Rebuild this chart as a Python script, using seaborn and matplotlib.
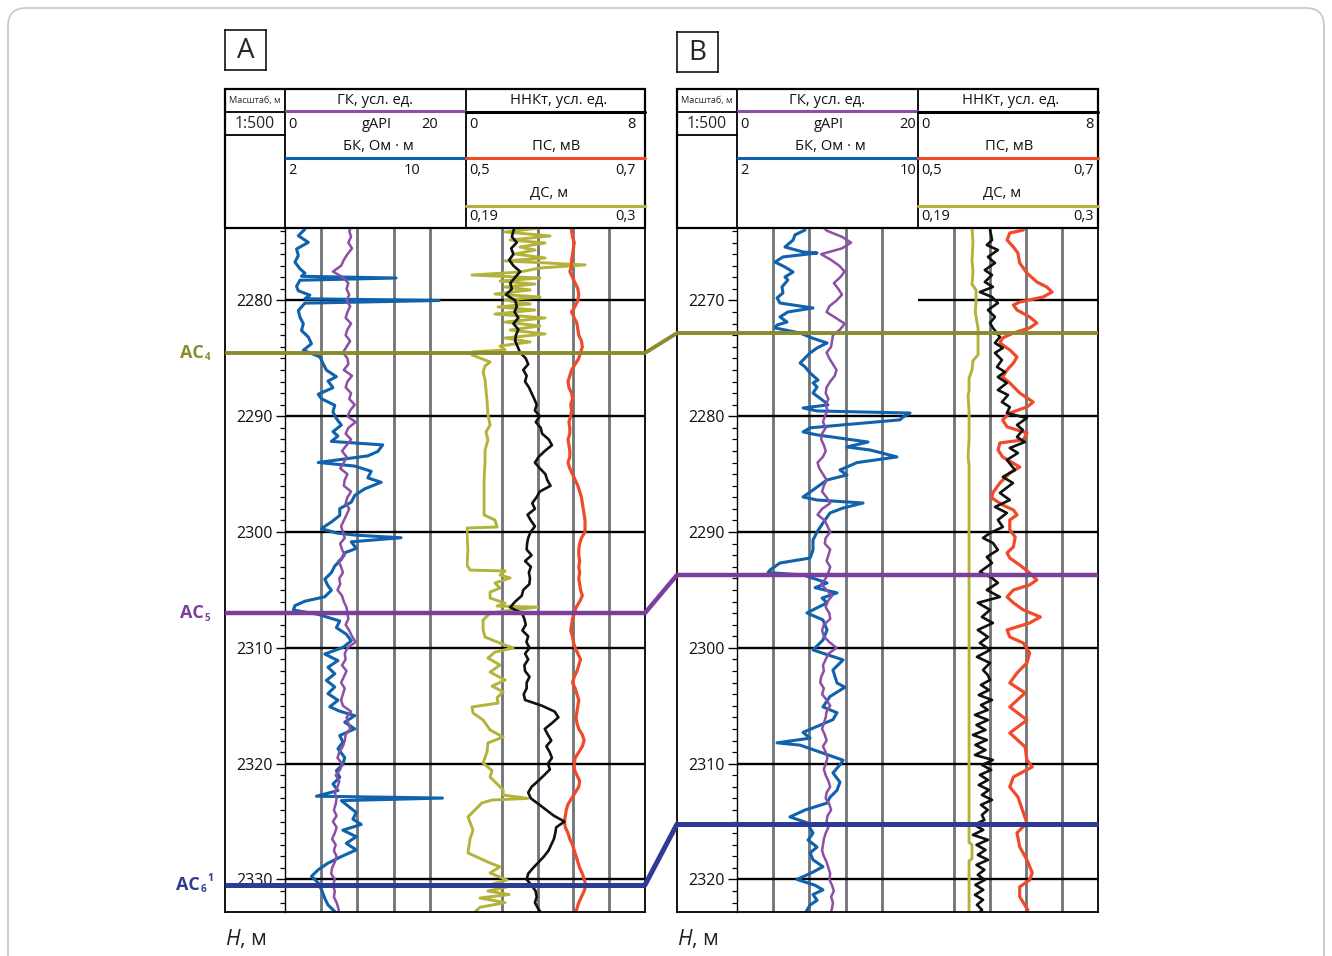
import matplotlib
matplotlib.use("Agg")
import matplotlib.pyplot as plt
import seaborn as sns
from matplotlib.patches import Rectangle, FancyBboxPatch, ConnectionPatch
from matplotlib.ticker import FixedLocator, MultipleLocator
from matplotlib.transforms import offset_copy

# ------------------------------------------------------------------ DATA
# Well A : regular 0.5 m samples
DEPTH_A = [2273.5, 2274.0, 2274.5, 2275.0, 2275.5, 2276.0, 2276.5, 2277.0, 2277.5, 2278.0,
           2278.5, 2279.0, 2279.5, 2280.0, 2280.5, 2281.0, 2281.5, 2282.0, 2282.5, 2283.0,
           2283.5, 2284.0, 2284.5, 2285.0, 2285.5, 2286.0, 2286.5, 2287.0, 2287.5, 2288.0,
           2288.5, 2289.0, 2289.5, 2290.0, 2290.5, 2291.0, 2291.5, 2292.0, 2292.5, 2293.0,
           2293.5, 2294.0, 2294.5, 2295.0, 2295.5, 2296.0, 2296.5, 2297.0, 2297.5, 2298.0,
           2298.5, 2299.0, 2299.5, 2300.0, 2300.5, 2301.0, 2301.5, 2302.0, 2302.5, 2303.0,
           2303.5, 2304.0, 2304.5, 2305.0, 2305.5, 2306.0, 2306.5, 2307.0, 2307.5, 2308.0,
           2308.5, 2309.0, 2309.5, 2310.0, 2310.5, 2311.0, 2311.5, 2312.0, 2312.5, 2313.0,
           2313.5, 2314.0, 2314.5, 2315.0, 2315.5, 2316.0, 2316.5, 2317.0, 2317.5, 2318.0,
           2318.5, 2319.0, 2319.5, 2320.0, 2320.5, 2321.0, 2321.5, 2322.0, 2322.5, 2323.0,
           2323.5, 2324.0, 2324.5, 2325.0, 2325.5, 2326.0, 2326.5, 2327.0, 2327.5, 2328.0,
           2328.5, 2329.0, 2329.5, 2330.0, 2330.5, 2331.0, 2331.5, 2332.0, 2332.5, 2333.0]
GK_A = [7.4, 7.1, 7.3, 7.0, 7.4, 6.9, 6.5, 6.2, 5.3, 6.4,
        7.0, 6.8, 7.1, 6.8, 7.2, 6.9, 6.7, 7.3, 6.9, 6.7,
        7.2, 6.8, 6.4, 6.9, 7.0, 6.5, 7.4, 6.9, 6.7, 7.3,
        7.1, 7.7, 7.2, 6.9, 7.8, 7.0, 6.7, 7.3, 6.8, 6.3,
        6.8, 6.5, 6.1, 6.9, 6.6, 6.5, 7.3, 6.9, 6.7, 7.1,
        6.8, 6.5, 6.2, 6.4, 6.6, 6.1, 6.3, 6.6, 5.9, 6.2,
        6.4, 6.0, 6.1, 5.8, 6.3, 6.5, 6.8, 6.9, 7.0, 6.7,
        7.1, 7.4, 7.8, 6.9, 6.6, 6.7, 6.3, 6.8, 6.5, 6.2,
        6.6, 6.4, 6.2, 6.4, 7.3, 6.8, 7.0, 7.2, 6.7, 6.6,
        6.4, 6.0, 5.8, 6.3, 6.1, 5.6, 6.0, 5.8, 5.5, 5.7,
        5.6, 5.4, 5.7, 5.3, 5.7, 5.5, 5.2, 5.6, 5.4, 5.7,
        5.5, 5.2, 5.1, 5.5, 5.3, 5.5, 5.4, 5.7, 5.9, 6.0]
NNKT_A = [2.20, 2.12, 2.05, 2.27, 2.02, 2.12, 1.93, 2.12, 2.42, 2.20,
          1.98, 2.05, 1.79, 2.20, 2.27, 2.17, 2.34, 2.12, 2.34, 2.23,
          2.20, 2.31, 2.42, 2.67, 2.78, 2.56, 2.71, 2.64, 2.81, 2.93,
          3.05, 3.16, 3.08, 3.30, 3.12, 3.34, 3.40, 3.70, 3.84, 3.52,
          3.25, 3.08, 3.30, 3.55, 3.63, 3.78, 3.30, 3.15, 2.96, 3.08,
          2.75, 2.90, 3.08, 2.89, 2.78, 2.73, 2.71, 2.93, 2.64, 2.90,
          2.81, 2.86, 2.83, 2.56, 2.49, 2.20, 1.97, 2.50, 2.61, 2.67,
          2.52, 2.78, 2.70, 2.84, 2.64, 2.78, 2.61, 2.64, 2.84, 2.71,
          2.71, 2.58, 2.64, 3.40, 3.96, 4.13, 3.84, 3.52, 3.66, 3.81,
          3.59, 3.74, 3.84, 3.66, 3.75, 3.49, 3.22, 2.93, 2.78, 2.90,
          3.25, 3.59, 3.93, 4.40, 4.03, 3.99, 3.93, 3.81, 3.69, 3.49,
          3.25, 3.00, 2.78, 2.71, 2.93, 3.11, 3.16, 3.08, 3.22, 3.40]
PS_A = [.617, .618, .619, .621, .620, .619, .618, .618, .616, .619,
        .622, .625, .626, .625, .622, .618, .621, .624, .625, .626,
        .629, .630, .628, .626, .622, .618, .616, .614, .615, .618,
        .619, .617, .618, .617, .615, .616, .616, .614, .615, .616,
        .616, .614, .616, .619, .622, .625, .627, .629, .630, .631,
        .632, .633, .633, .633, .629, .627, .626, .626, .627, .626,
        .627, .626, .627, .628, .630, .627, .623, .621, .619, .618,
        .617, .619, .620, .622, .625, .628, .626, .624, .621, .619,
        .622, .624, .626, .625, .624, .623, .624, .626, .630, .632,
        .630, .626, .622, .621, .621, .624, .627, .626, .622, .618,
        .614, .612, .611, .610, .611, .614, .616, .619, .621, .623,
        .625, .627, .630, .632, .634, .632, .629, .626, .624, .622]
# (depth, value) pairs for curves with spikes / steps
BK_A = [(2273.84, 2.88), (2274.41, 2.59), (2274.98, 3.03), (2275.55, 2.51), (2276.12, 2.59),
        (2276.69, 2.44), (2277.26, 2.66), (2277.64, 2.88), (2277.91, 2.73), (2278.06, 6.91),
        (2278.25, 2.66), (2278.78, 2.51), (2279.16, 2.59), (2279.54, 3.10), (2279.85, 2.88),
        (2280.00, 8.81), (2280.23, 2.88), (2280.87, 2.59), (2281.44, 2.66), (2282.01, 2.81),
        (2282.59, 2.73), (2283.16, 3.03), (2283.73, 3.17), (2284.30, 2.81), (2284.87, 3.54),
        (2285.44, 3.68), (2286.01, 3.83), (2286.58, 4.27), (2286.96, 3.90), (2287.53, 4.12),
        (2288.10, 3.47), (2288.48, 3.61), (2289.05, 4.20), (2289.62, 4.12), (2290.19, 4.27),
        (2290.76, 4.49), (2291.33, 4.12), (2291.71, 4.34), (2292.17, 4.05), (2292.47, 6.32),
        (2293.04, 6.10), (2293.42, 5.66), (2293.99, 3.47), (2294.30, 5.08), (2294.75, 5.81),
        (2295.32, 5.66), (2295.70, 6.25), (2296.27, 5.52), (2296.84, 5.08), (2297.41, 4.93),
        (2297.98, 4.42), (2298.56, 4.42), (2299.13, 4.05), (2299.70, 3.61), (2300.08, 4.27),
        (2300.27, 5.15), (2300.49, 7.13), (2300.84, 4.93), (2301.41, 5.15), (2301.79, 4.64),
        (2302.36, 4.49), (2302.93, 4.20), (2303.50, 4.05), (2304.07, 3.76), (2304.64, 3.90),
        (2305.02, 4.05), (2305.59, 3.76), (2305.97, 2.88), (2306.35, 2.44), (2306.73, 2.37),
        (2307.11, 3.47), (2307.68, 4.42), (2308.25, 4.27), (2308.82, 4.71), (2309.39, 4.93),
        (2309.96, 4.56), (2310.53, 3.76), (2311.10, 4.34), (2311.67, 3.90), (2312.24, 4.20),
        (2312.81, 3.83), (2313.38, 4.20), (2313.95, 3.90), (2314.52, 4.34), (2315.09, 3.98),
        (2315.47, 4.42), (2315.85, 5.08), (2316.42, 4.64), (2316.99, 5.08), (2317.57, 4.42),
        (2318.14, 4.56), (2318.71, 4.34), (2319.47, 4.64), (2320.04, 4.56), (2320.61, 4.27),
        (2321.18, 4.42), (2321.75, 4.12), (2322.32, 4.34), (2322.81, 3.39), (2322.97, 8.96),
        (2323.19, 4.49), (2323.65, 4.78), (2324.22, 5.15), (2324.79, 5.00), (2325.25, 5.37),
        (2325.74, 4.56), (2326.31, 5.15), (2326.88, 4.71), (2327.45, 5.15), (2328.02, 4.49),
        (2328.59, 3.90), (2329.16, 3.47), (2329.73, 3.17), (2330.30, 3.47), (2330.87, 3.61),
        (2331.63, 3.76), (2332.20, 3.90), (2332.77, 4.20)]
DS_A = [(2273.74, .2355), (2274.08, .2140), (2274.43, .2417), (2274.78, .2171), (2275.03, .2386),
        (2275.38, .2232), (2275.64, .2324), (2275.98, .2201), (2276.33, .2386), (2276.58, .2140),
        (2276.93, .2632), (2277.19, .2355), (2277.54, .2232), (2277.80, .1937), (2278.06, .2355),
        (2278.32, .2109), (2278.58, .2324), (2278.83, .2140), (2279.09, .2294), (2279.44, .2078),
        (2279.70, .2355), (2279.96, .2140), (2280.30, .2294), (2280.56, .2097), (2280.82, .2324),
        (2281.17, .2078), (2281.51, .2386), (2281.86, .2140), (2282.20, .2355), (2282.55, .2171),
        (2282.89, .2386), (2283.24, .2140), (2283.58, .2294), (2283.93, .2109), (2284.27, .2140),
        (2284.45, .1937), (2284.71, .1937), (2284.97, .1986), (2285.31, .2048), (2285.66, .2017),
        (2286.17, .2005), (2286.87, .2017), (2287.73, .2023), (2288.59, .2029), (2289.89, .2035),
        (2290.75, .2048), (2291.36, .2023), (2292.05, .2035), (2292.91, .2017), (2293.95, .2017),
        (2295.50, .2011), (2297.23, .2011), (2298.52, .2011), (2298.96, .2078), (2299.56, .2091),
        (2299.65, .1906), (2300.25, .1906), (2301.55, .1912), (2302.84, .1906), (2303.28, .1925),
        (2303.36, .2140), (2303.71, .2109), (2303.97, .2171), (2304.40, .2078), (2304.83, .2109),
        (2305.18, .2048), (2305.70, .2048), (2306.13, .2140), (2306.39, .2091), (2306.48, .2337),
        (2306.82, .2140), (2307.00, .2048), (2307.59, .2005), (2308.46, .2005), (2309.07, .2017),
        (2309.76, .2140), (2310.01, .2189), (2310.36, .2078), (2310.88, .2035), (2311.48, .2109),
        (2312.09, .2048), (2312.78, .2140), (2313.30, .2060), (2313.80, .2128), (2314.30, .2091),
        (2314.77, .2097), (2315.10, .1937), (2315.62, .1943), (2316.23, .2005), (2317.09, .2048),
        (2317.70, .2128), (2318.21, .2035), (2319.00, .2029), (2319.94, .2005), (2320.60, .2060),
        (2321.15, .2048), (2322.27, .2128), (2322.71, .2128), (2323.00, .2281), (2323.14, .2060),
        (2323.39, .1998), (2324.60, .1912), (2325.73, .1943), (2326.50, .1925), (2327.71, .1912),
        (2328.58, .2048), (2328.90, .2109), (2329.44, .2048), (2330.05, .2152), (2330.40, .2060),
        (2330.65, .2152), (2331.00, .2035), (2331.30, .2165), (2331.60, .1986), (2332.00, .2140),
        (2332.40, .1986), (2332.81, .1955)]

# Well B
DEPTH_B = [2263.5, 2264.0, 2264.5, 2265.0, 2265.5, 2266.0, 2266.5, 2267.0, 2267.5, 2268.0,
           2268.5, 2269.0, 2269.5, 2270.0, 2270.5, 2271.0, 2271.5, 2272.0, 2272.5, 2273.0,
           2273.5, 2274.0, 2274.5, 2275.0, 2275.5, 2276.0, 2276.5, 2277.0, 2277.5, 2278.0,
           2278.5, 2279.0, 2279.5, 2280.0, 2280.5, 2281.0, 2281.5, 2282.0, 2282.5, 2283.0,
           2283.5, 2284.0, 2284.5, 2285.0, 2285.5, 2286.0, 2286.5, 2287.0, 2287.5, 2288.0,
           2288.5, 2289.0, 2289.5, 2290.0, 2290.5, 2291.0, 2291.5, 2292.0, 2292.5, 2293.0,
           2293.5, 2294.0, 2294.5, 2295.0, 2295.5, 2296.0, 2296.5, 2297.0, 2297.5, 2298.0,
           2298.5, 2299.0, 2299.5, 2300.0, 2300.5, 2301.0, 2301.5, 2302.0, 2302.5, 2303.0,
           2303.5, 2304.0, 2304.5, 2305.0, 2305.5, 2306.0, 2306.5, 2307.0, 2307.5, 2308.0,
           2308.5, 2309.0, 2309.5, 2310.0, 2310.5, 2311.0, 2311.5, 2312.0, 2312.5, 2313.0,
           2313.5, 2314.0, 2314.5, 2315.0, 2315.5, 2316.0, 2316.5, 2317.0, 2317.5, 2318.0,
           2318.5, 2319.0, 2319.5, 2320.0, 2320.5, 2321.0, 2321.5, 2322.0, 2322.5, 2323.0]
GK_B = [9.2, 10.0, 11.6, 12.6, 11.6, 9.3, 10.4, 11.3, 11.9, 11.4,
        10.7, 11.2, 11.6, 11.0, 10.2, 9.9, 10.9, 11.9, 11.4, 10.6,
        10.5, 10.4, 9.9, 10.2, 10.6, 11.0, 10.8, 10.3, 9.9, 9.8,
        10.1, 9.8, 10.0, 9.7, 9.5, 9.8, 9.4, 9.3, 9.6, 9.8,
        9.5, 8.9, 9.1, 9.5, 9.9, 9.6, 9.4, 9.9, 10.3, 9.4,
        8.9, 9.7, 10.0, 10.3, 9.8, 9.7, 10.3, 10.1, 9.9, 10.3,
        10.1, 9.8, 9.3, 9.9, 10.5, 10.0, 9.8, 10.2, 10.3, 9.6,
        9.4, 9.6, 10.2, 11.0, 10.1, 9.8, 9.5, 9.6, 9.3, 9.2,
        9.6, 9.4, 9.9, 10.3, 9.9, 9.8, 9.6, 9.4, 9.7, 9.9,
        9.5, 9.8, 10.0, 9.8, 9.6, 9.8, 10.1, 10.3, 9.9, 9.8,
        10.2, 10.4, 10.0, 9.9, 10.1, 9.8, 9.6, 9.5, 9.4, 9.6,
        9.9, 10.1, 10.3, 10.2, 10.5, 10.7, 10.4, 10.6, 10.5, 10.3]
BK_B = [(2263.91, 5.01), (2264.34, 4.56), (2264.78, 4.48), (2265.38, 4.12), (2265.81, 4.92),
        (2265.90, 5.54), (2266.24, 4.03), (2266.68, 3.68), (2267.11, 4.12), (2267.54, 4.48),
        (2267.97, 4.12), (2268.23, 4.25), (2268.83, 3.99), (2269.35, 4.03), (2269.78, 3.77),
        (2270.22, 3.90), (2270.65, 5.36), (2270.99, 4.25), (2271.42, 3.90), (2271.86, 4.21),
        (2272.12, 3.77), (2272.37, 3.68), (2272.81, 4.79), (2273.24, 5.32), (2273.67, 5.98),
        (2274.10, 5.54), (2274.53, 5.23), (2275.14, 4.92), (2275.40, 4.79), (2275.74, 5.01),
        (2276.26, 5.23), (2276.87, 5.58), (2277.12, 5.36), (2277.47, 5.54), (2277.99, 5.36),
        (2278.77, 5.89), (2279.02, 6.02), (2279.28, 4.92), (2279.54, 5.54), (2279.72, 9.65),
        (2280.06, 9.34), (2280.31, 9.20), (2280.74, 6.69), (2281.00, 5.23), (2281.35, 4.92),
        (2281.61, 5.54), (2282.22, 7.79), (2282.65, 6.86), (2282.91, 7.88), (2283.51, 9.07),
        (2284.00, 7.30), (2284.64, 6.55), (2285.07, 6.86), (2285.50, 5.98), (2286.36, 5.36),
        (2286.97, 4.92), (2287.23, 5.54), (2287.49, 7.57), (2287.92, 6.69), (2288.35, 6.11),
        (2289.21, 5.80), (2289.99, 5.54), (2290.68, 5.36), (2291.54, 5.36), (2292.24, 5.23),
        (2292.67, 3.90), (2293.27, 3.46), (2293.50, 3.37), (2293.70, 4.92), (2294.39, 5.98),
        (2294.80, 5.45), (2295.25, 6.42), (2295.70, 5.76), (2296.11, 5.98), (2296.98, 5.09),
        (2297.59, 5.80), (2298.45, 5.98), (2299.32, 5.80), (2300.18, 5.36), (2301.04, 6.69),
        (2301.91, 6.24), (2303.03, 6.42), (2303.40, 6.77), (2304.20, 6.11), (2305.10, 5.80),
        (2305.60, 6.42), (2306.20, 6.24), (2307.30, 4.92), (2307.80, 5.23), (2308.20, 3.77),
        (2308.40, 4.79), (2309.00, 5.67), (2309.70, 6.69), (2310.10, 6.55), (2310.80, 6.24),
        (2311.60, 6.55), (2312.30, 6.42), (2312.90, 6.11), (2313.40, 5.98), (2314.00, 5.01),
        (2314.60, 4.34), (2315.10, 5.09), (2316.00, 5.36), (2316.60, 5.14), (2317.20, 5.54),
        (2317.70, 5.23), (2318.30, 5.36), (2318.90, 5.80), (2319.40, 5.32), (2320.00, 4.65),
        (2320.50, 5.45), (2320.90, 5.80), (2321.30, 5.36), (2321.80, 5.54), (2322.20, 5.23),
        (2322.80, 5.05)]
NNKT_B = [(2263.91, 3.20), (2264.34, 3.25), (2264.78, 3.29), (2265.21, 3.06), (2265.64, 3.55),
          (2266.24, 3.11), (2266.76, 3.42), (2267.37, 2.97), (2267.80, 3.29), (2268.40, 2.97),
          (2268.83, 3.33), (2269.27, 2.75), (2269.70, 3.29), (2270.22, 3.55), (2270.82, 3.11),
          (2271.42, 3.42), (2271.94, 3.20), (2272.37, 3.33), (2273.15, 3.64), (2273.67, 3.42),
          (2274.10, 3.77), (2274.53, 3.42), (2275.14, 3.73), (2275.74, 3.51), (2276.17, 3.86),
          (2276.61, 3.55), (2277.12, 3.95), (2277.73, 3.55), (2278.16, 4.00), (2278.77, 3.73),
          (2279.20, 4.08), (2279.72, 3.95), (2280.15, 4.84), (2280.75, 4.40), (2281.18, 4.66),
          (2281.79, 4.40), (2282.22, 4.75), (2282.74, 4.08), (2283.17, 4.44), (2283.77, 3.95),
          (2284.64, 4.31), (2285.24, 3.77), (2285.76, 4.22), (2286.62, 3.64), (2287.23, 4.08),
          (2287.83, 3.42), (2288.35, 3.95), (2288.95, 3.55), (2289.56, 3.77), (2290.08, 3.20),
          (2290.51, 2.89), (2290.94, 3.33), (2291.54, 3.55), (2292.15, 3.06), (2292.67, 3.29),
          (2293.44, 2.75), (2293.96, 3.29), (2294.39, 3.55), (2295.00, 3.06), (2295.60, 3.64),
          (2296.11, 2.66), (2296.72, 3.20), (2297.33, 2.84), (2297.85, 3.33), (2298.45, 2.66),
          (2299.06, 3.11), (2299.58, 2.75), (2300.18, 3.20), (2300.78, 2.62), (2301.30, 3.20),
          (2301.91, 2.89), (2302.34, 3.10), (2302.77, 3.20), (2303.20, 2.80), (2303.64, 3.15),
          (2304.07, 2.70), (2304.50, 3.29), (2304.93, 2.80), (2305.36, 3.10), (2305.79, 2.53),
          (2306.23, 3.11), (2306.66, 2.60), (2307.09, 3.00), (2307.52, 2.44), (2307.95, 3.06),
          (2308.38, 2.55), (2308.82, 3.00), (2309.25, 2.53), (2309.68, 3.33), (2310.11, 2.85),
          (2310.54, 3.25), (2310.97, 2.75), (2311.41, 3.11), (2311.84, 2.70), (2312.27, 3.15),
          (2312.70, 2.84), (2313.13, 3.29), (2313.56, 2.80), (2314.00, 3.10), (2314.43, 2.84),
          (2314.86, 2.95), (2315.29, 2.50), (2315.72, 2.90), (2316.15, 2.44), (2316.58, 3.11),
          (2317.01, 2.60), (2317.45, 3.00), (2317.88, 2.66), (2318.31, 3.11), (2318.74, 2.60),
          (2319.17, 2.95), (2319.60, 2.66), (2320.04, 2.97), (2320.47, 2.55), (2320.90, 2.90),
          (2321.33, 2.53), (2321.76, 2.89), (2322.19, 2.62), (2322.63, 2.85), (2322.89, 2.70)]
PS_B = [(2263.91, .617), (2264.17, .602), (2264.78, .599), (2265.38, .606), (2265.90, .611),
        (2266.76, .613), (2267.63, .621), (2268.40, .632), (2268.83, .643), (2269.27, .649),
        (2269.70, .639), (2270.13, .613), (2270.39, .606), (2270.82, .610), (2271.42, .624),
        (2271.94, .632), (2272.37, .624), (2272.81, .606), (2273.24, .594), (2273.67, .591),
        (2274.27, .602), (2274.88, .610), (2275.40, .606), (2276.00, .599), (2276.61, .594),
        (2277.12, .602), (2277.99, .613), (2278.77, .628), (2279.20, .621), (2279.72, .602),
        (2280.32, .594), (2280.92, .599), (2281.44, .621), (2282.04, .617), (2282.30, .591),
        (2282.91, .589), (2283.51, .594), (2284.38, .613), (2284.90, .602), (2285.76, .591),
        (2286.62, .583), (2287.05, .582), (2287.66, .594), (2288.09, .606), (2288.52, .610),
        (2288.95, .602), (2289.82, .602), (2290.42, .608), (2291.28, .606), (2291.80, .599),
        (2292.24, .602), (2292.84, .613), (2293.53, .624), (2294.13, .632), (2294.56, .624),
        (2295.00, .606), (2295.60, .599), (2296.11, .606), (2296.72, .617), (2297.33, .636),
        (2297.85, .624), (2298.45, .599), (2299.06, .602), (2299.58, .617), (2300.44, .624),
        (2301.30, .621), (2302.17, .610), (2303.03, .602), (2303.89, .619), (2305.10, .602),
        (2306.23, .621), (2307.35, .602), (2308.55, .619), (2309.68, .621), (2310.28, .627),
        (2311.15, .606), (2312.01, .602), (2312.87, .611), (2314.00, .616), (2315.12, .621),
        (2315.98, .610), (2317.19, .613), (2318.31, .621), (2319.43, .627), (2320.04, .624),
        (2320.64, .613), (2321.50, .613), (2322.63, .622)]
DS_B = [(2263.70, .2230), (2265.00, .2236), (2266.50, .2230), (2267.50, .2236), (2268.60, .2230),
        (2269.10, .2255), (2270.00, .2255), (2271.00, .2250), (2272.40, .2267), (2273.50, .2267),
        (2274.70, .2267), (2275.20, .2236), (2276.00, .2230), (2276.70, .2212), (2277.80, .2212),
        (2278.20, .2206), (2279.50, .2212), (2282.00, .2212), (2283.50, .2206), (2284.20, .2212),
        (2287.00, .2212), (2300.00, .2212), (2310.00, .2212), (2316.80, .2212), (2317.00, .2230),
        (2318.20, .2230), (2318.40, .2212), (2322.90, .2212)]

# horizons (depth of the correlation markers in each well)
HORIZON_NAMES = ["АС", "АС", "АС"]
HORIZON_SUB = ["4", "5", "6"]
HORIZON_SUP = ["", "", "1"]
HORIZON_A = [2284.53, 2306.99, 2330.47]
HORIZON_B = [2272.81, 2293.70, 2315.22]

DEPTH_LABELS_A = [2280, 2290, 2300, 2310, 2320, 2330]
DEPTH_LABELS_B = [2270, 2280, 2290, 2300, 2310, 2320]

SCALE_GK = (0, 20)
SCALE_BK = (2, 10)
SCALE_NNKT = (0, 8)
SCALE_PS = (0.5, 0.7)
SCALE_DS = (0.19, 0.3)

# ------------------------------------------------------------------ STYLE
GK_C = '#8b4fa6'
BK_C = '#1062ac'
NN_C = '#111111'
PS_C = '#f04a2a'
DS_C = '#b3b33c'
GRID_C = '#6f7377'
HOR_C = ['#8b8a2d', '#7b3f9b', '#2e3b94']
HOR_LW = [2.8, 3.2, 3.6]

sns.set_theme(style="white")
plt.rcParams['font.family'] = ['Open Sans', 'DejaVu Sans']
plt.rcParams['mathtext.fontset'] = 'custom'
plt.rcParams['mathtext.it'] = 'Open Sans:italic'
plt.rcParams['mathtext.rm'] = 'Open Sans'

W, H = 1332, 956
fig = plt.figure(figsize=(W / 100, H / 100), dpi=100)
fig.patch.set_facecolor('white')


def px_axes(x0, y0, x1, y1, z=0):
    ax = fig.add_axes([x0 / W, 1 - y1 / H, (x1 - x0) / W, (y1 - y0) / H])
    ax.set_zorder(z)
    return ax


bg = px_axes(0, 0, W, H, z=-5)
bg.set_xlim(0, W)
bg.set_ylim(H, 0)
bg.axis('off')
bg.add_patch(FancyBboxPatch((8, 8), W - 16, H + 30, boxstyle="round,pad=0,rounding_size=18",
                            fc='none', ec='#c9c9c9', lw=1.3))


def curve(parent, vals, depths, color, lw, xlim, z):
    tw = parent.twiny()
    tw.set_zorder(parent.get_zorder() + z)
    tw.patch.set_visible(False)
    sns.lineplot(x=vals, y=depths, ax=tw, color=color, linewidth=lw, sort=False,
                 estimator=None, legend=False)
    tw.set_xlim(*xlim)
    tw.axis('off')
    return tw


def header(x0, xd, xm, x1, r20, r10, r8):
    hx = px_axes(x0, 89, x1, 228, z=1)
    w, a, b = x1 - x0, xd - x0, xm - x0
    hx.set_xlim(0, w)
    hx.set_ylim(139, 0)
    hx.axis('off')
    k = dict(color='black', lw=1.3, clip_on=False)
    hx.add_patch(Rectangle((0, 0), w, 139, fill=False, ec='black', lw=1.6, clip_on=False))
    hx.plot([a, a], [0, 139], **k)
    hx.plot([b, b], [0, 139], **k)
    hx.plot([0, a], [23, 23], **k)
    hx.plot([0, a], [46, 46], **k)
    hx.plot([a + 1, b - 1], [22, 22], color=GK_C, lw=2.2, clip_on=False)
    hx.plot([b, w], [23, 23], color='black', lw=2.2, clip_on=False)
    hx.plot([a + 1, b - 1], [69, 69], color=BK_C, lw=2.2, clip_on=False)
    hx.plot([b, w], [69, 69], color=PS_C, lw=2.2, clip_on=False)
    hx.plot([b, w], [117, 117], color=DS_C, lw=2.2, clip_on=False)
    t = dict(va='center', fontsize=10.6, color='#111111')
    n = dict(va='center', fontsize=10.5, color='#111111')
    hx.text(a / 2, 12, 'Масштаб, м', ha='center', va='center', fontsize=6.6)
    hx.text(a / 2, 35, '1:500', ha='center', va='center', fontsize=11.3)
    hx.text((a + b) / 2, 12, 'ГК, усл. ед.', ha='center', **t)
    hx.text(a + 3, 35, str(SCALE_GK[0]), ha='left', **n)
    hx.text((a + b) / 2 + 1, 35, 'gAPI', ha='center', **n)
    hx.text(r20, 35, str(SCALE_GK[1]), ha='right', **n)
    hx.text((a + b) / 2 + 3, 58, 'БК, Ом · м', ha='center', **t)
    hx.text(a + 3, 81, str(SCALE_BK[0]), ha='left', **n)
    hx.text(r10, 81, str(SCALE_BK[1]), ha='right', **n)
    hx.text((b + w) / 2 + 3, 11, 'ННКт, усл. ед.', ha='center', **t)
    hx.text(b + 3, 35, str(SCALE_NNKT[0]), ha='left', **n)
    hx.text(r8, 35, str(SCALE_NNKT[1]), ha='right', **n)
    hx.text((b + w) / 2 + 1, 58, 'ПС, мВ', ha='center', **t)
    hx.text(b + 3, 81, '0,5', ha='left', **n)
    hx.text(r8, 81, '0,7', ha='right', **n)
    hx.text((b + w) / 2 - 6, 105, 'ДС, м', ha='center', **t)
    hx.text(b + 3, 128, '0,19', ha='left', **n)
    hx.text(r8, 128, '0,3', ha='right', **n)


def panel(x0, xd, xm, x1, top, bot, labels, hl1, hl2, gk, bk, nn, ps, ds, letter, ly):
    # label box
    lb = px_axes(x0, ly, x0 + 41, ly + 40, z=1)
    lb.set_xticks([]); lb.set_yticks([])
    for s in lb.spines.values():
        s.set_color('black'); s.set_linewidth(1.1); s.set_visible(True)
    lb.text(0.5, 0.47, letter, ha='center', va='center', fontsize=20, transform=lb.transAxes)

    # track 1
    t1 = px_axes(xd, 228, xm, 912, z=1)
    t1.set_xlim(*SCALE_GK)
    for s in ['top', 'right', 'bottom']:
        t1.spines[s].set_visible(False)
    t1.spines['left'].set_visible(True)
    t1.spines['left'].set_color('black')
    t1.spines['left'].set_linewidth(1.0)
    for v in [4, 8, 12, 16]:
        t1.axvline(v, color=GRID_C, lw=2.0, zorder=1)
    for d in hl1:
        t1.axhline(d, color='black', lw=1.7, zorder=1.5)
    t1.set_xticks([])
    t1.yaxis.set_major_locator(FixedLocator(labels))
    t1.set_yticklabels([str(v) for v in labels])
    t1.yaxis.set_minor_locator(MultipleLocator(1))
    t1.tick_params(axis='y', which='major', left=True, direction='out', length=6.5,
                   width=1.0, labelsize=11.5, pad=2.5, colors='black')
    t1.tick_params(axis='y', which='minor', left=True, direction='out', length=3.5, width=0.9,
                   colors='black')
    for lab in t1.get_yticklabels():
        lab.set_color('#111111')

    bkd, bkv = zip(*bk)
    curve(t1, list(bkv), list(bkd), BK_C, 2.2, SCALE_BK, 0.1)
    depth_grid, gk_vals = gk
    curve(t1, gk_vals, depth_grid, GK_C, 1.8, SCALE_GK, 0.2)

    # track 2
    t2 = px_axes(xm, 228, x1, 912, z=1)
    t2.set_xlim(*SCALE_NNKT)
    for s in t2.spines.values():
        s.set_visible(False)
    for v in [1.6, 3.2, 4.8, 6.4]:
        t2.axvline(v, color=GRID_C, lw=2.0, zorder=1)
    for d in hl2:
        t2.axhline(d, color='black', lw=1.7, zorder=1.5)
    t2.set_xticks([]); t2.set_yticks([])

    dsd, dsv = zip(*ds)
    curve(t2, list(dsv), list(dsd), DS_C, 2.1, SCALE_DS, 0.1)
    psd, psv = ps
    curve(t2, list(psv), list(psd), PS_C, 2.3, SCALE_PS, 0.2)
    nnd, nnv = nn
    curve(t2, list(nnv), list(nnd), NN_C, 1.9, SCALE_NNKT, 0.3)

    for ax in (t1, t2):
        ax.set_ylim(bot, top)

    # overlay: frame + horizons
    pa = px_axes(x0, 228, x1, 912, z=3)
    pa.set_xlim(0, 1)
    pa.set_ylim(bot, top)
    pa.patch.set_visible(False)
    pa.set_xticks([]); pa.set_yticks([])
    for s in pa.spines.values():
        s.set_visible(True); s.set_color('black'); s.set_linewidth(1.3)
    header(x0, xd, xm, x1, *letter_pos[letter])
    bg.text(x0, 945, '$H$, м', ha='left', va='baseline', fontsize=15.5, color='#222222')
    return pa


letter_pos = {'A': (213, 195, 411), 'B': (239, 239, 417)}

paA = panel(225, 285, 466, 645, 2273.74, 2332.81, DEPTH_LABELS_A,
            DEPTH_LABELS_A, DEPTH_LABELS_A,
            (DEPTH_A, GK_A), BK_A, (DEPTH_A, NNKT_A), (DEPTH_A, PS_A), DS_A, 'A', 30)
nnB_d, nnB_v = zip(*NNKT_B)
psB_d, psB_v = zip(*PS_B)
paB = panel(677, 737, 918, 1098, 2263.74, 2322.81, DEPTH_LABELS_B,
            DEPTH_LABELS_B[1:], DEPTH_LABELS_B,
            (DEPTH_B, GK_B), BK_B, (nnB_d, nnB_v), (psB_d, psB_v), DS_B, 'B', 32)

# horizons and correlation
for name, sub, sup, dA, dB, c, lw in zip(HORIZON_NAMES, HORIZON_SUB, HORIZON_SUP,
                                        HORIZON_A, HORIZON_B, HOR_C, HOR_LW):
    paA.axhline(dA, color=c, lw=lw, zorder=6, solid_capstyle='butt', clip_on=False)
    paB.axhline(dB, color=c, lw=lw, zorder=6, solid_capstyle='butt', clip_on=False)
    con = ConnectionPatch(xyA=(1, dA), coordsA=paA.get_yaxis_transform(),
                          xyB=(0, dB), coordsB=paB.get_yaxis_transform(),
                          color=c, lw=lw, zorder=20)
    fig.add_artist(con)
    shift = -25 if sup else -21
    trn = offset_copy(paA.get_yaxis_transform(), fig=fig, x=shift, y=0, units='dots')
    paA.text(0, dA, name, transform=trn, ha='right', va='center', fontsize=13,
             fontweight='bold', color=c, clip_on=False)
    trs = offset_copy(paA.get_yaxis_transform(), fig=fig, x=shift + 1, y=-5, units='dots')
    paA.text(0, dA, sub, transform=trs, ha='left', va='center', fontsize=7,
             fontweight='bold', color=c, clip_on=False)
    if sup:
        trp = offset_copy(paA.get_yaxis_transform(), fig=fig, x=shift + 7, y=6, units='dots')
        paA.text(0, dA, sup, transform=trp, ha='left', va='center', fontsize=7.5,
                 fontweight='bold', color=c, clip_on=False)

fig.savefig('out.png', dpi=100, facecolor='white')
